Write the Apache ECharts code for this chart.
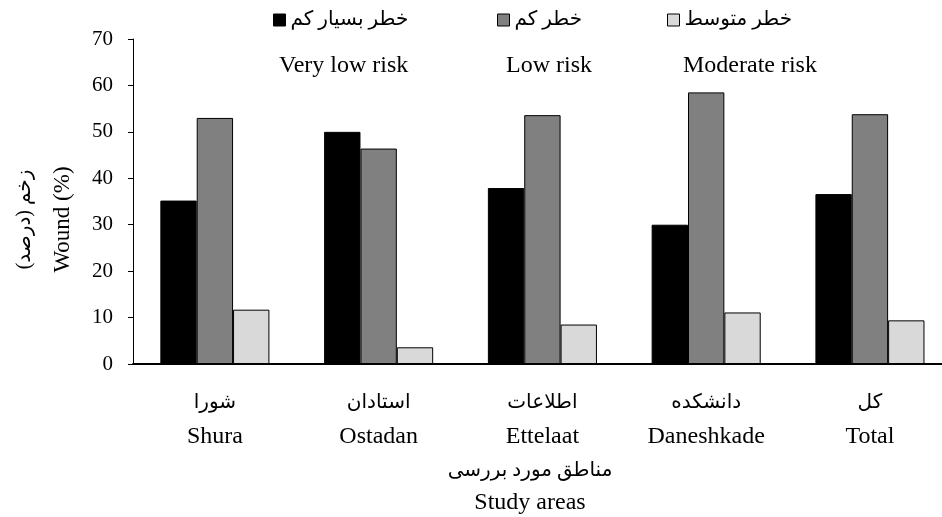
<!DOCTYPE html>
<html>
<head>
<meta charset="utf-8">
<script src="https://cdn.jsdelivr.net/npm/echarts@6/dist/echarts.min.js"></script>
<style>
html,body{margin:0;padding:0;background:#fff;overflow:hidden;}
#main{width:942px;height:517px;}
</style>
</head>
<body>
<div id="main"></div>
<script>
var categoriesFa = ['شورا', 'استادان', 'اطلاعات', 'دانشکده', 'کل'];
var categoriesEn = ['Shura', 'Ostadan', 'Ettelaat', 'Daneshkade', 'Total'];
var seriesNamesFa = ['خطر بسیار کم', 'خطر کم', 'خطر متوسط'];
var seriesNamesEn = ['Very low risk', 'Low risk', 'Moderate risk'];
var veryLowRisk = [35.2, 50.0, 37.9, 30.0, 36.6];
var lowRisk = [53.0, 46.4, 53.6, 58.5, 53.8];
var moderateRisk = [11.7, 3.6, 8.5, 11.1, 9.4];
var yTicks = [0, 10, 20, 30, 40, 50, 60, 70];

var SERIF = "'Liberation Serif', 'Times New Roman', serif";
var FA = "'Liberation Serif', 'DejaVu Sans', sans-serif";
var colors = ['#000000', '#808080', '#d9d9d9'];

var chart = echarts.init(document.getElementById('main'), null, {renderer: 'canvas'});

var categoryIndex = categoriesFa.map(function (c, i) { return i; });
var values = [veryLowRisk, lowRisk, moderateRisk];

function legendFor(i, left) {
  return {
    data: [seriesNamesFa[i]],
    left: left,
    top: 8,
    padding: 0,
    icon: 'rect',
    itemWidth: 12,
    itemHeight: 12,
    selectedMode: false,
    itemStyle: {borderColor: '#000', borderWidth: 1},
    textStyle: {fontFamily: FA, fontSize: 20, color: '#000', lineHeight: 24}
  };
}

// The original figure is cropped at the right: the last category band runs past the edge.
var xMin = -0.5, xMax = 4.44;

var option = {
  animation: false,
  backgroundColor: '#fff',
  legend: [legendFor(0, 273), legendFor(1, 497), legendFor(2, 667)],
  graphic: [
    {type: 'text', left: 279, top: 54, style: {text: seriesNamesEn[0], font: '24px ' + SERIF, fill: '#000'}},
    {type: 'text', left: 506, top: 54, style: {text: seriesNamesEn[1], font: '24px ' + SERIF, fill: '#000'}},
    {type: 'text', left: 683, top: 54, style: {text: seriesNamesEn[2], font: '24px ' + SERIF, fill: '#000'}}
  ],
  grid: {left: 133, right: 0, top: 39, bottom: 153, containLabel: false, outerBoundsMode: 'none'},
  xAxis: {
    type: 'value',
    min: xMin,
    max: xMax,
    splitLine: {show: false},
    axisLine: {show: true, onZero: false, lineStyle: {color: '#000', width: 2}},
    axisTick: {show: false},
    axisLabel: {
      customValues: categoryIndex,
      margin: 22,
      formatter: function (v) {
        var i = Math.round(v);
        return '{fa|' + categoriesFa[i] + '}\n{en|' + categoriesEn[i] + '}';
      },
      rich: {
        fa: {fontFamily: FA, fontSize: 20, color: '#000', lineHeight: 34},
        en: {fontFamily: SERIF, fontSize: 24, color: '#000', lineHeight: 34}
      }
    },
    name: '{fa|مناطق مورد بررسی}\n{en|Study areas}',
    nameLocation: 'middle',
    nameGap: 91,
    nameTextStyle: {
      padding: [0, 15, 0, 0],
      rich: {
        fa: {fontFamily: FA, fontSize: 20, color: '#000', lineHeight: 32},
        en: {fontFamily: SERIF, fontSize: 24, color: '#000', lineHeight: 32}
      }
    }
  },
  yAxis: {
    type: 'value',
    min: yTicks[0],
    max: yTicks[yTicks.length - 1],
    interval: 10,
    axisLine: {show: true, onZero: false, lineStyle: {color: '#000', width: 1}},
    axisTick: {show: true, inside: false, length: 5, lineStyle: {color: '#000'}},
    splitLine: {show: false},
    axisLabel: {margin: 20, fontFamily: SERIF, fontSize: 21, color: '#000'},
    name: '{fa|زخم (درصد)\u200F}\n{en|Wound (%)}',
    nameLocation: 'middle',
    nameRotate: 90,
    nameGap: 51,
    nameTextStyle: {
      padding: [0, 36, 0, 0],
      rich: {
        fa: {fontFamily: FA, fontSize: 20, color: '#000', lineHeight: 38},
        en: {fontFamily: SERIF, fontSize: 23, color: '#000', lineHeight: 38}
      }
    }
  },
  series: seriesNamesFa.map(function (name, i) {
    return {
      name: name,
      type: 'bar',
      data: values[i].map(function (v, j) { return [categoryIndex[j], v]; }),
      barGap: '0%',
      barCategoryGap: '33.4%',
      itemStyle: {color: colors[i], borderColor: '#000', borderWidth: 1},
      emphasis: {disabled: true}
    };
  })
};

chart.setOption(option);
</script>
</body>
</html>
